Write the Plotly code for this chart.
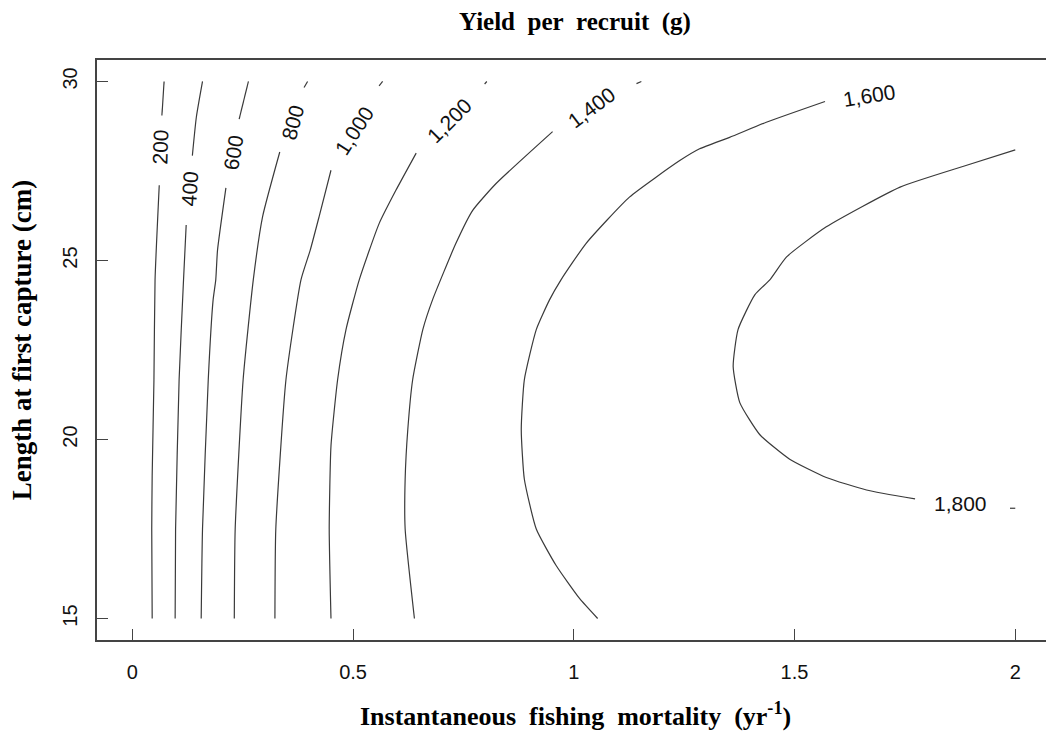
import plotly.graph_objects as go

# Contour levels (yield per recruit, g)
levels = [200, 400, 600, 800, 1000, 1200, 1400, 1600, 1800]
level_labels = ["200", "400", "600", "800", "1,000", "1,200", "1,400", "1,600", "1,800"]

# Contour paths: F = fishing mortality (yr^-1), Lc = length at first capture (cm)
# None marks the gap where a label interrupts the line
F_200 = [0.072, 0.067, None, 0.061, 0.0515, 0.049, 0.045, 0.044, 0.045]
L_200 = [30.0, 29.05, None, 27.10, 24.46, 21.67, 19.0, 17.5, 15.0]

F_400 = [0.159, 0.145, 0.136, None, 0.122, 0.116, 0.106, 0.098, 0.097]
L_400 = [30.0, 29.0, 27.93, None, 25.99, 24.46, 21.67, 17.5, 15.0]

F_600 = [0.263, 0.242, None, 0.212, 0.193, 0.189, 0.183, 0.172, 0.159, 0.156]
L_600 = [30.0, 28.95, None, 27.03, 25.29, 24.46, 23.90, 21.67, 17.5, 15.0]

F_800 = [0.397, 0.389, None, 0.334, 0.295, 0.274, 0.251, 0.233, 0.231]
L_800 = [30.0, 29.83, None, 28.03, 26.22, 24.46, 21.67, 17.5, 15.0]

F_1000 = [0.567, 0.559, None, 0.450, 0.423, 0.403, 0.382, 0.348, 0.325, 0.323]
L_1000 = [30.0, 29.88, None, 27.52, 26.22, 25.29, 24.46, 21.67, 17.5, 15.0]

F_1200 = [0.803, 0.798, None, 0.643, 0.597, 0.559, 0.514, 0.484, 0.465, 0.450, 0.446, 0.450]
L_1200 = [30.0, 29.93, None, 28.0, 26.96, 26.03, 24.46, 23.07, 21.67, 19.82, 17.5, 15.0]

F_1400 = [1.142, 1.153, None, 0.952, 0.824, 0.771, 0.733, 0.680, 0.658, 0.635, 0.624, 0.618, 0.618, 0.639]
L_1400 = [29.94, 30.0, None, 28.60, 27.15, 26.40, 25.48, 23.90, 23.07, 21.67, 20.28, 18.89, 17.5, 15.0]

F_1600 = [1.569, 1.436, 1.353, 1.285, 1.240, 1.126, 1.028, 0.971, 0.945, 0.915, 0.888, 0.881, 0.888, 0.915, 0.960, 1.013, 1.054]
L_1600 = [29.44, 28.86, 28.44, 28.12, 27.79, 26.77, 25.48, 24.46, 23.90, 23.07, 21.67, 20.28, 18.89, 17.5, 16.48, 15.56, 15.0]

F_1800 = [2.0, 1.890, 1.739, 1.572, 1.482, 1.444, 1.410, 1.372, 1.361, 1.376, 1.421, 1.489, 1.572, 1.663, 1.773, None, 1.988, 2.0]
L_1800 = [28.09, 27.66, 27.05, 25.94, 25.10, 24.46, 24.04, 23.07, 22.04, 21.03, 20.14, 19.45, 18.94, 18.59, 18.34, None, 18.08, 18.08]

# Label positions (F, Lc) and rotation
label_F = [0.063, 0.130, 0.228, 0.363, 0.503, 0.718, 1.040, 1.670, 1.875]
label_L = [28.16, 27.01, 28.03, 28.86, 28.63, 28.91, 29.28, 29.60, 18.20]
label_angle = [-88, -86, -81, -75, -57, -45, -37, -9, 0]

x_ticks = [0, 0.5, 1, 1.5, 2]
x_ticktext = ["0", "0.5", "1", "1.5", "2"]
y_ticks = [15, 20, 25, 30]

paths_F = [F_200, F_400, F_600, F_800, F_1000, F_1200, F_1400, F_1600, F_1800]
paths_L = [L_200, L_400, L_600, L_800, L_1000, L_1200, L_1400, L_1600, L_1800]

line_color = "#3a3a3a"
sans = "Arial, Liberation Sans, sans-serif"
serif = "Times New Roman, Liberation Serif, serif"
sp2 = "&nbsp;&nbsp;"

fig = go.Figure()
for lv, fx, ly in zip(levels, paths_F, paths_L):
    fig.add_trace(go.Scatter(x=fx, y=ly, mode="lines", name=str(lv),
                             line=dict(color=line_color, width=1.2, shape="spline", smoothing=0.5),
                             connectgaps=False, showlegend=False, hoverinfo="skip"))

annotations = []
for txt, fx, ly, ang in zip(level_labels, label_F, label_L, label_angle):
    annotations.append(dict(x=fx, y=ly, xref="x", yref="y", text=txt, showarrow=False,
                            textangle=ang, font=dict(family=sans, size=21, color="#111111")))

annotations.append(dict(x=0.504, y=1.066, xref="paper", yref="paper", xanchor="center", yanchor="middle",
                        text="<b>Yield" + sp2 + "per" + sp2 + "recruit" + sp2 + "(g)</b>", showarrow=False,
                        font=dict(family=serif, size=25, color="#000000")))
annotations.append(dict(x=0.504, y=-0.128, xref="paper", yref="paper", xanchor="center", yanchor="middle",
                        text="<b>Instantaneous" + sp2 + "fishing" + sp2 + "mortality" + sp2 + "(yr<sup>-1</sup>)</b>",
                        showarrow=False, font=dict(family=serif, size=26, color="#000000")))
annotations.append(dict(x=-0.079, y=0.517, xref="paper", yref="paper", xanchor="center", yanchor="middle",
                        textangle=-90,
                        text="<b>Length at first capture (cm)</b>", showarrow=False,
                        font=dict(family=serif, size=27, color="#000000")))

fig.update_layout(
    width=1046, height=735,
    margin=dict(l=97, r=0, t=60, b=95),
    paper_bgcolor="white", plot_bgcolor="white",
    annotations=annotations,
    showlegend=False,
)
fig.update_xaxes(range=[-0.08, 2.0696], tickvals=x_ticks, ticktext=x_ticktext,
                 ticks="inside", ticklen=11, tickwidth=1.3, tickcolor="#444444",
                 showline=True, linecolor="#444444", linewidth=1.6, mirror=True,
                 showgrid=False, zeroline=False, ticklabelstandoff=13,
                 tickfont=dict(family=sans, size=20, color="#111111"))
fig.update_yaxes(range=[14.4, 30.6], tickvals=y_ticks,
                 ticks="inside", ticklen=11, tickwidth=1.3, tickcolor="#444444",
                 showline=True, linecolor="#444444", linewidth=1.6,
                 showgrid=False, zeroline=False, tickangle=-90, ticklabelstandoff=10,
                 tickfont=dict(family=sans, size=20, color="#111111"))

fig.write_html("out.html", config={"displayModeBar": False},
               post_script="document.body.style.margin='0';")
